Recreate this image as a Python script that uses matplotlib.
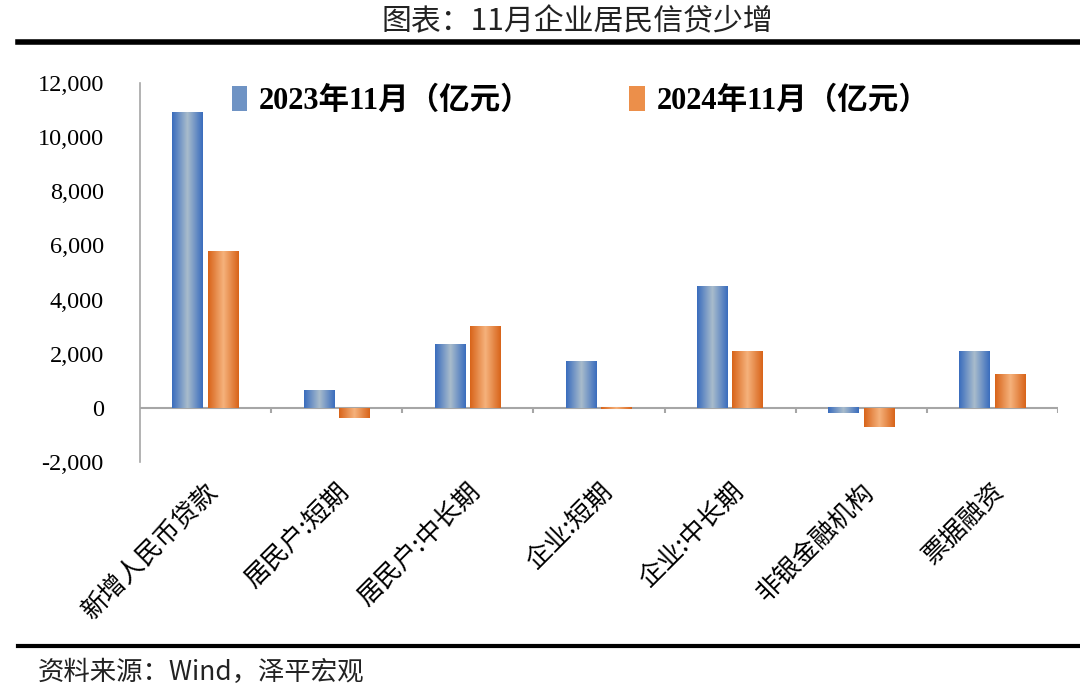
import numpy as np
import matplotlib
matplotlib.use("Agg")
import matplotlib.pyplot as plt
from matplotlib.colors import LinearSegmentedColormap
from matplotlib.patches import Patch

categories = ["新增人民币贷款", "居民户:短期", "居民户:中长期", "企业:短期",
              "企业:中长期", "非银金融机构", "票据融资"]
v2023 = [10900, 630, 2350, 1720, 4480, -190, 2100]
v2024 = [5800, -360, 3000, -60, 2100, -700, 1250]
series_names = ["2023年11月（亿元）", "2024年11月（亿元）"]
yticks = [-2000, 0, 2000, 4000, 6000, 8000, 10000, 12000]

cjk = ["Noto Sans CJK SC", "DejaVu Sans"]
num = ["Liberation Serif", "Noto Sans CJK SC"]

blue_map = LinearSegmentedColormap.from_list("b", ["#3a6dbd", "#a9bccc", "#3a6dbd"])
orange_map = LinearSegmentedColormap.from_list("o", ["#d8641a", "#f5b27c", "#d8641a"])

fig = plt.figure(figsize=(10.8, 6.89), dpi=100)
ax = fig.add_axes([0.1296, 0.3295, 0.85, 0.55])

x = np.arange(len(categories))
w = 0.235
off = 0.135
grad = np.linspace(0, 1, 64).reshape(1, -1)


def gradient_bars(xs, vals, cmap):
    bars = ax.bar(xs, vals, w, color="none", edgecolor="none")
    for b in bars:
        x0, y0 = b.get_x(), b.get_y()
        x1, y1 = x0 + b.get_width(), y0 + b.get_height()
        ax.imshow(grad, extent=[x0, x1, min(y0, y1), max(y0, y1)],
                  aspect="auto", cmap=cmap, zorder=3)


gradient_bars(x - off, v2023, blue_map)
gradient_bars(x + off, v2024, orange_map)

ax.set_xlim(-0.5, len(categories) - 0.5)
ax.set_ylim(-2000, 12000)
ax.set_yticks(yticks)
ax.set_yticklabels([f"{t:,}" for t in yticks], family=num, fontsize=17.5)
ax.tick_params(axis="y", length=0, pad=26)

ax.set_xticks(x)
ax.set_xticklabels(categories, rotation=45, ha="right", va="top",
                   rotation_mode="anchor", family=cjk, fontsize=18.5)
ax.tick_params(axis="x", length=0, pad=12)

ax.axhline(0, color="#a6a6a6", lw=1.5, zorder=2)
ax.vlines(np.arange(0.5, len(categories)), -200, 0, color="#a6a6a6", lw=1.5)
for s in ["top", "right", "bottom"]:
    ax.spines[s].set_visible(False)
ax.spines["left"].set_color("#a6a6a6")
ax.spines["left"].set_linewidth(1.2)

handles = [Patch(facecolor="#6f93c4"), Patch(facecolor="#ec8f4a")]
ax.legend(handles, series_names, ncol=2, loc="upper center",
          bbox_to_anchor=(0.48, 1.065), frameon=False,
          prop={"family": num, "weight": "bold", "size": 22},
          handlelength=0.5, handleheight=0.9, handletextpad=0.4,
          columnspacing=3.2)

fig.text(0.535, 0.968, "图表：11月企业居民信贷少增", ha="center", va="center",
         family=cjk, fontsize=21.5, color="#222222")
fig.add_artist(plt.Line2D([0.017, 0.998], [0.939, 0.939], color="black", lw=4))
fig.add_artist(plt.Line2D([0.017, 0.998], [0.062, 0.062], color="black", lw=3))
fig.text(0.035, 0.024, "资料来源：Wind，泽平宏观", ha="left", va="center",
         family=cjk, fontsize=19, style="italic", color="#222222")

fig.savefig("out.png", dpi=100)
